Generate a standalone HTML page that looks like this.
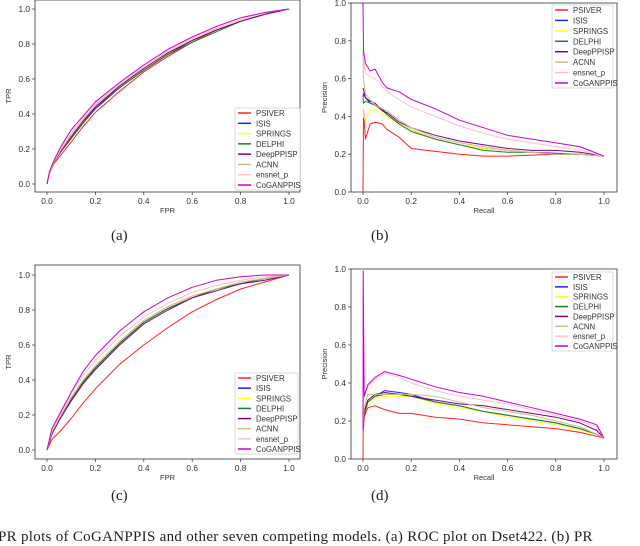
<!DOCTYPE html>
<html><head><meta charset="utf-8"><style>
html,body{margin:0;padding:0;background:#fff;}
body{width:640px;height:537px;overflow:hidden;position:relative;font-family:"Liberation Sans",sans-serif;}
.cap{position:absolute;font-family:"Liberation Serif",serif;font-size:15px;color:#222;}
</style></head><body>
<svg id="fig" width="640" height="537" style="position:absolute;left:0;top:0"></svg>
<div class="cap" style="left:111px;top:228px">(a)</div>
<div class="cap" style="left:371px;top:228px">(b)</div>
<div class="cap" style="left:111px;top:488px">(c)</div>
<div class="cap" style="left:371px;top:488px">(d)</div>
<div class="cap" style="left:-2px;top:529px;white-space:nowrap;letter-spacing:0.3px">PR plots of CoGANPPIS and other seven competing models. (a) ROC plot on Dset422. (b) PR</div>
<script>
const seriesNames=["PSIVER","ISIS","SPRINGS","DELPHI","DeepPPISP","ACNN","ensnet_p","CoGANPPIS"];
const legendLabelsA=["PSIVER","ISIS","SPRINGS","DELPHI","DeepPPISP","ACNN","ensnet_p","CoGANPPIS"];
const ticks=[0,0.2,0.4,0.6,0.8,1.0];
const tickLabels=["0.0","0.2","0.4","0.6","0.8","1.0"];
// Panel a: ROC (x = FPR, y = TPR)
const aX=[0,0.01,0.03,0.06,0.1,0.15,0.2,0.3,0.4,0.5,0.6,0.7,0.8,0.9,1];
const aPSIVER=[0,0.06,0.12,0.17,0.24,0.33,0.41,0.53,0.64,0.73,0.81,0.88,0.93,0.97,1];
const aISIS=[0,0.06,0.13,0.19,0.26,0.35,0.43,0.55,0.65,0.74,0.82,0.88,0.93,0.97,1];
const aSPRINGS=[0,0.06,0.13,0.19,0.27,0.36,0.44,0.56,0.66,0.75,0.82,0.88,0.93,0.97,1];
const aDELPHI=[0,0.06,0.13,0.19,0.26,0.35,0.44,0.55,0.65,0.74,0.81,0.87,0.93,0.97,1];
const aDeepPPISP=[0,0.06,0.13,0.19,0.27,0.36,0.44,0.56,0.66,0.75,0.82,0.88,0.93,0.97,1];
const aACNN=[0,0.06,0.13,0.2,0.28,0.37,0.45,0.57,0.67,0.76,0.83,0.89,0.94,0.98,1];
const aEnsnet=[0,0.07,0.14,0.21,0.29,0.38,0.46,0.57,0.67,0.76,0.83,0.89,0.94,0.98,1];
const aCoGAN=[0,0.07,0.14,0.22,0.31,0.39,0.47,0.58,0.68,0.77,0.84,0.9,0.95,0.98,1];
// Panel c: ROC
const cX=[0,0.02,0.05,0.1,0.15,0.2,0.3,0.4,0.5,0.6,0.7,0.8,0.9,1];
const cPSIVER=[0,0.06,0.1,0.18,0.27,0.35,0.49,0.6,0.7,0.79,0.86,0.92,0.96,1];
const cISIS=[0,0.09,0.17,0.29,0.39,0.47,0.61,0.73,0.81,0.87,0.92,0.95,0.98,1];
const cSPRINGS=[0,0.1,0.18,0.3,0.4,0.48,0.62,0.74,0.82,0.88,0.92,0.95,0.98,1];
const cDELPHI=[0,0.09,0.17,0.29,0.39,0.47,0.61,0.73,0.81,0.87,0.92,0.95,0.98,1];
const cDeepPPISP=[0,0.09,0.17,0.28,0.38,0.46,0.6,0.72,0.8,0.87,0.91,0.95,0.97,1];
const cACNN=[0,0.1,0.18,0.3,0.4,0.48,0.62,0.74,0.82,0.88,0.92,0.96,0.98,1];
const cEnsnet=[0,0.11,0.19,0.32,0.43,0.51,0.65,0.76,0.84,0.9,0.94,0.97,0.99,1];
const cCoGAN=[0,0.12,0.2,0.33,0.45,0.54,0.68,0.79,0.87,0.93,0.97,0.99,1,1];
// Panel b: PR (x = recall)
const bX=[0,0.002,0.01,0.03,0.05,0.08,0.1,0.15,0.2,0.3,0.4,0.5,0.6,0.7,0.8,0.9,1];
const bPSIVER=[0,0.43,0.28,0.36,0.37,0.36,0.33,0.29,0.23,0.215,0.2,0.19,0.19,0.195,0.2,0.2,0.19];
const bISIS=[0.5,0.52,0.5,0.47,0.46,0.44,0.41,0.36,0.33,0.28,0.25,0.23,0.22,0.21,0.205,0.2,0.19];
const bSPRINGS=[0.45,0.4,0.38,0.43,0.44,0.41,0.4,0.36,0.33,0.28,0.25,0.23,0.22,0.21,0.2,0.2,0.19];
const bDELPHI=[0.5,0.47,0.48,0.47,0.46,0.43,0.41,0.36,0.32,0.28,0.25,0.22,0.21,0.21,0.2,0.2,0.19];
const bDeepPPISP=[0.55,0.54,0.5,0.48,0.47,0.43,0.42,0.37,0.34,0.3,0.27,0.25,0.23,0.22,0.22,0.21,0.19];
const bACNN=[0.75,0.6,0.52,0.49,0.46,0.44,0.43,0.38,0.34,0.29,0.26,0.24,0.22,0.21,0.2,0.2,0.19];
const bEnsnet=[0.7,0.7,0.63,0.61,0.6,0.56,0.53,0.49,0.45,0.4,0.35,0.31,0.28,0.26,0.24,0.22,0.19];
const bCoGAN=[1.0,0.75,0.68,0.64,0.65,0.58,0.55,0.53,0.49,0.44,0.38,0.34,0.3,0.28,0.26,0.24,0.19];
// Panel d: PR
const dX=[0,0.001,0.005,0.02,0.05,0.09,0.15,0.2,0.3,0.4,0.5,0.6,0.7,0.8,0.9,0.97,1];
const dPSIVER=[0,0.15,0.22,0.27,0.28,0.26,0.24,0.24,0.22,0.21,0.19,0.18,0.17,0.16,0.14,0.12,0.11];
const dISIS=[0.2,0.2,0.24,0.3,0.33,0.36,0.35,0.34,0.3,0.28,0.25,0.23,0.21,0.19,0.16,0.13,0.11];
const dSPRINGS=[0.2,0.2,0.24,0.28,0.32,0.33,0.33,0.33,0.29,0.27,0.25,0.22,0.2,0.18,0.15,0.13,0.11];
const dDELPHI=[0.2,0.2,0.23,0.3,0.33,0.34,0.34,0.33,0.3,0.28,0.25,0.23,0.21,0.19,0.16,0.13,0.11];
const dDeepPPISP=[0.2,0.2,0.25,0.31,0.34,0.35,0.34,0.33,0.31,0.29,0.28,0.26,0.24,0.22,0.19,0.15,0.11];
const dACNN=[0.2,0.2,0.27,0.34,0.34,0.34,0.34,0.34,0.33,0.3,0.27,0.25,0.23,0.2,0.17,0.13,0.11];
const dEnsnet=[0.15,0.3,0.33,0.38,0.42,0.45,0.43,0.4,0.36,0.33,0.31,0.29,0.26,0.23,0.2,0.17,0.11];
const dCoGAN=[0.15,0.99,0.33,0.39,0.43,0.46,0.44,0.42,0.38,0.35,0.33,0.3,0.27,0.24,0.21,0.18,0.11];

const colors=["#ff2020","#2020ff","#ffff20","#208020","#800080","#c8c08a","#ffc0cb","#cc00cc"];
const NS="http://www.w3.org/2000/svg";
const svg=document.getElementById('fig');
function mk(tag,attrs,parent){const e=document.createElementNS(NS,tag);for(const k in attrs)e.setAttribute(k,attrs[k]);(parent||svg).appendChild(e);return e;}

const panels=[
 {id:"a",box:[35,0,300,192],x0:47,x1:289,y0:184,y1:9,xs:aX,ys:[aPSIVER,aISIS,aSPRINGS,aDELPHI,aDeepPPISP,aACNN,aEnsnet,aCoGAN],xl:"FPR",yl:"TPR",leg:[235,108,65,82]},
 {id:"b",box:[351,3,617,192],x0:363,x1:604,y0:192,y1:3,xs:bX,ys:[bPSIVER,bISIS,bSPRINGS,bDELPHI,bDeepPPISP,bACNN,bEnsnet,bCoGAN],xl:"Recall",yl:"Precision",leg:[552,5,61,83]},
 {id:"c",box:[35,265,300,459],x0:47,x1:289,y0:450,y1:275,xs:cX,ys:[cPSIVER,cISIS,cSPRINGS,cDELPHI,cDeepPPISP,cACNN,cEnsnet,cCoGAN],xl:"FPR",yl:"TPR",leg:[235,373,63,81]},
 {id:"d",box:[351,269,617,459],x0:363,x1:604,y0:459,y1:269,xs:dX,ys:[dPSIVER,dISIS,dSPRINGS,dDELPHI,dDeepPPISP,dACNN,dEnsnet,dCoGAN],xl:"Recall",yl:"Precision",leg:[552,272,61,79]}
];

panels.forEach(p=>{
 const g=mk('g',{});
 
 
 const sx=v=>p.x0+(p.x1-p.x0)*v, sy=v=>p.y0+(p.y1-p.y0)*v;
 const [L,T,R,B]=p.box;
 const frame=mk('rect',{x:L,y:T,width:R-L,height:B-T,fill:'none',stroke:'#333','stroke-width':0.8},g);
 
 
 ticks.forEach((t,i)=>{
  mk('line',{x1:sx(t),x2:sx(t),y1:B,y2:B+3,stroke:'#333','stroke-width':0.7},g);
  const tx=mk('text',{x:sx(t),y:B+12,'font-size':8.3,'text-anchor':'middle',fill:'#333'},g);
  tx.textContent=tickLabels[i];
  
  
  mk('line',{x1:L-3,x2:L,y1:sy(t),y2:sy(t),stroke:'#333','stroke-width':0.7},g);
  const ty=mk('text',{x:L-5,y:sy(t)+3,'font-size':8.3,'text-anchor':'end',fill:'#333'},g);
  ty.textContent=tickLabels[i];
  
  
 });
 const xl=mk('text',{x:(L+R)/2,y:B+21,'font-size':7.5,'text-anchor':'middle',fill:'#333'},g);
 xl.textContent=p.xl;
 
 
 const yc=(T+B)/2;
 const yl=mk('text',{x:L-24,y:yc,'font-size':7.5,'text-anchor':'middle',fill:'#333',transform:`rotate(-90 ${L-24} ${yc})`},g);
 yl.textContent=p.yl;
 
 
 p.ys.forEach((ys,si)=>{
  const d=ys.map((v,i)=>(i?'L':'M')+sx(p.xs[i]).toFixed(1)+','+sy(v).toFixed(1)).join(' ');
  const path=mk('path',{d:d,fill:'none',stroke:colors[si],'stroke-width':1,'stroke-linejoin':'round'},g);
  
  
 });
 const [lx,ly,lw,lh]=p.leg;
 const lg=mk('g',{},g);
 
 
 mk('rect',{x:lx,y:ly,width:lw,height:lh,fill:'#fff',stroke:'#ccc','stroke-width':0.7,rx:1.5},lg);
 const step=(lh-10)/7;
 legendLabelsA.forEach((n,i)=>{
  const yy=ly+5+step*i;
  mk('line',{x1:lx+3,x2:lx+16,y1:yy,y2:yy,stroke:colors[i],'stroke-width':1.5},lg);
  const t=mk('text',{x:lx+21,y:yy+3,'font-size':7.8,fill:'#333'},lg);
  t.textContent=n;
  
  
 });
});
</script>
</body></html>
